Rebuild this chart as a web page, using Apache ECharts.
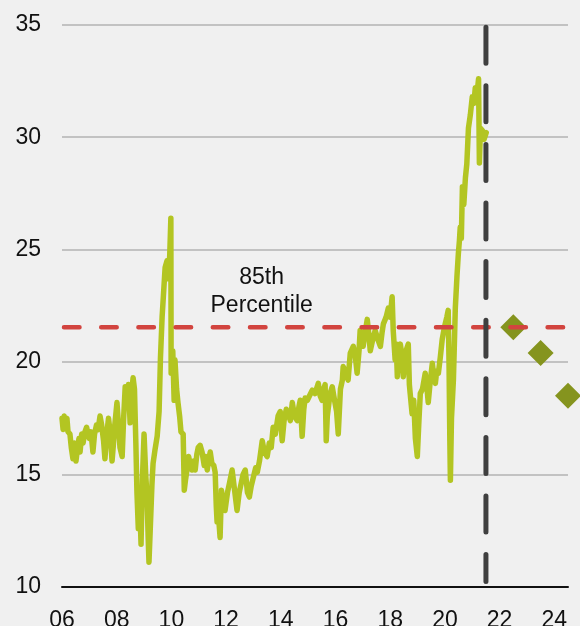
<!DOCTYPE html>
<html>
<head>
<meta charset="utf-8">
<script src="https://cdn.jsdelivr.net/npm/echarts@6/dist/echarts.min.js"></script>
<style>
  html, body { margin: 0; padding: 0; background: #f0f0f0; }
  #chart { width: 580px; height: 626px; }
</style>
</head>
<body>
<div id="chart"></div>
<script>
// Historical series: time in decimal years, value per point
const histYears = [
  2006.00, 2006.04, 2006.08, 2006.13, 2006.18, 2006.22, 2006.29, 2006.34, 2006.40, 2006.45,
  2006.51, 2006.56, 2006.62, 2006.66, 2006.72, 2006.77, 2006.84, 2006.90, 2006.95, 2007.00,
  2007.06, 2007.13, 2007.19, 2007.26, 2007.32, 2007.39, 2007.45, 2007.52, 2007.57, 2007.62,
  2007.70, 2007.76, 2007.83, 2007.87, 2007.93, 2008.01, 2008.06, 2008.12, 2008.20, 2008.25,
  2008.31, 2008.36, 2008.43, 2008.49, 2008.54, 2008.60, 2008.65, 2008.70, 2008.74, 2008.79,
  2008.84, 2008.89, 2008.94, 2009.00, 2009.06, 2009.11, 2009.15, 2009.18, 2009.24, 2009.29,
  2009.33, 2009.40, 2009.48, 2009.55, 2009.60, 2009.66, 2009.72, 2009.77, 2009.84, 2009.90,
  2009.94, 2009.98, 2009.99, 2010.05, 2010.10, 2010.13, 2010.19, 2010.24, 2010.30, 2010.35,
  2010.43, 2010.47, 2010.52, 2010.58, 2010.63, 2010.68, 2010.75, 2010.82, 2010.87, 2010.93,
  2010.98, 2011.05, 2011.12, 2011.20, 2011.25, 2011.31, 2011.37, 2011.42, 2011.48, 2011.55,
  2011.60, 2011.64, 2011.67, 2011.72, 2011.78, 2011.83, 2011.88, 2011.96, 2012.05, 2012.12,
  2012.22, 2012.30, 2012.40, 2012.48, 2012.55, 2012.62, 2012.70, 2012.78, 2012.85, 2012.92,
  2013.00, 2013.08, 2013.14, 2013.22, 2013.32, 2013.40, 2013.50, 2013.58, 2013.65, 2013.72,
  2013.80, 2013.90, 2013.98, 2014.05, 2014.12, 2014.20, 2014.27, 2014.35, 2014.42, 2014.50,
  2014.60, 2014.66, 2014.71, 2014.78, 2014.84, 2014.89, 2014.97, 2015.05, 2015.15, 2015.25,
  2015.37, 2015.44, 2015.51, 2015.57, 2015.62, 2015.66, 2015.70, 2015.80, 2015.88, 2015.95,
  2016.04, 2016.10, 2016.18, 2016.25, 2016.28, 2016.36, 2016.46, 2016.54, 2016.65, 2016.72,
  2016.79, 2016.86, 2016.90, 2016.96, 2017.01, 2017.08, 2017.16, 2017.22, 2017.27, 2017.36,
  2017.45, 2017.55, 2017.64, 2017.70, 2017.75, 2017.85, 2017.93, 2018.00, 2018.07, 2018.11,
  2018.18, 2018.22, 2018.26, 2018.32, 2018.37, 2018.44, 2018.48, 2018.55, 2018.66, 2018.70,
  2018.73, 2018.80, 2018.86, 2018.92, 2018.99, 2019.05, 2019.10, 2019.18, 2019.28, 2019.34,
  2019.39, 2019.46, 2019.54, 2019.60, 2019.65, 2019.70, 2019.76, 2019.83, 2019.90, 2019.96,
  2020.01, 2020.07, 2020.12, 2020.15, 2020.18, 2020.20, 2020.24, 2020.31, 2020.35, 2020.38,
  2020.44, 2020.49, 2020.53, 2020.56, 2020.60, 2020.64, 2020.69, 2020.75, 2020.80, 2020.86,
  2020.93, 2021.00, 2021.06, 2021.11, 2021.18, 2021.23, 2021.26, 2021.30, 2021.37, 2021.43,
  2021.51
];
const histValues = [
  17.5, 17.0, 17.6, 17.3, 17.5, 16.9, 16.8, 16.2, 15.7, 16.4,
  15.6, 16.1, 16.6, 16.0, 16.8, 16.4, 16.9, 17.1, 16.8, 16.6,
  16.9, 16.0, 16.8, 17.2, 17.0, 17.6, 17.2, 16.5, 15.7, 16.6,
  17.5, 16.9, 15.6, 16.2, 17.2, 18.2, 17.3, 16.2, 15.8, 17.4,
  18.9, 18.3, 19.0, 17.3, 18.6, 19.3, 18.8, 16.4, 14.2, 12.6,
  13.8, 11.9, 14.8, 16.8, 15.0, 14.0, 12.2, 11.1, 13.0, 14.6,
  15.5, 16.1, 16.7, 17.8, 20.2, 22.0, 23.2, 24.2, 24.5, 23.7,
  24.8, 26.4, 19.5, 20.5, 18.3, 20.1, 18.8, 18.2, 17.6, 16.9,
  16.8, 14.3, 14.8, 15.3, 15.8, 15.5, 15.2, 15.6, 15.2, 15.9,
  16.2, 16.3, 16.0, 15.4, 15.8, 15.2, 15.7, 16.0, 15.5, 15.4,
  15.1, 13.6, 12.9, 13.2, 12.2, 14.3, 13.8, 13.4, 14.2, 14.6,
  15.2, 14.4, 13.4, 14.2, 14.6, 15.0, 15.2, 14.2, 14.0, 14.5,
  14.9, 15.3, 15.1, 15.6, 16.5, 16.0, 15.8, 16.4, 16.2, 17.1,
  16.8, 17.6, 17.8, 16.5, 17.4, 17.9, 17.7, 17.4, 18.2, 17.6,
  17.4, 18.0, 18.3, 16.7, 17.9, 18.4, 18.3, 18.5, 18.75, 18.6,
  19.05, 18.5, 18.3, 18.8, 19.0, 16.5, 17.6, 18.6, 18.9, 18.4,
  17.8, 16.8, 18.8, 19.2, 19.8, 19.6, 19.2, 20.4, 20.7, 20.3,
  19.5, 20.5, 21.4, 21.0, 20.7, 21.3, 21.9, 21.2, 20.5, 21.0,
  21.4, 21.0, 20.7, 21.3, 21.7, 22.0, 22.4, 22.0, 22.9, 21.4,
  20.1, 20.8, 19.35, 20.5, 20.8, 20.2, 19.35, 20.4, 20.8, 19.0,
  18.6, 17.7, 18.3, 16.6, 15.8, 17.4, 18.6, 18.8, 19.5, 18.9,
  18.2, 19.1, 19.95, 19.3, 19.05, 19.6, 19.5, 20.2, 21.0, 21.4,
  21.7, 22.0, 22.3, 20.0, 16.5, 14.75, 17.5, 19.2, 21.0, 22.4,
  23.8, 24.8, 25.4, 26.0, 25.5, 27.8, 27.0, 28.2, 28.8, 30.4,
  31.0, 31.8, 31.5, 32.2, 32.0, 32.6, 28.85, 30.4, 30.3, 29.9,
  30.2
];

// Projections shown as diamonds
const forecastYears = [2022.5, 2023.5, 2024.5];
const forecastValues = [21.55, 20.4, 18.5];

// Reference levels
const percentile85 = 21.55;
const percentileLabel = ['85th', 'Percentile'];
const cutoffYear = 2021.5;

// Axis ranges
const xRange = [2006, 2024.5];
const yRange = [10, 35];
const xStep = 2;
const yStep = 5;

const FONT = "'Liberation Sans', Arial, sans-serif";
const chart = echarts.init(document.getElementById('chart'), null, { renderer: 'canvas' });

const histData = histYears.map((y, i) => [y, histValues[i]]);
const forecastData = forecastYears.map((y, i) => [y, forecastValues[i]]);

chart.setOption({
  backgroundColor: '#f0f0f0',
  animation: false,
  grid: {
    left: 62, right: 12, top: 24.7, bottom: 39,
    containLabel: false,
    outerBoundsMode: 'none'
  },
  xAxis: {
    type: 'value',
    min: xRange[0],
    max: xRange[1],
    interval: xStep,
    axisLine: { show: true, lineStyle: { color: '#111111', width: 2 } },
    axisTick: { show: false },
    splitLine: { show: false },
    axisLabel: {
      margin: 22,
      color: '#111111',
      fontFamily: FONT,
      fontSize: 23,
      showMaxLabel: false,
      formatter: v => (Number.isInteger(v) && v % 2 === 0) ? String(v).slice(2) : ''
    }
  },
  yAxis: {
    type: 'value',
    min: yRange[0],
    max: yRange[1],
    interval: yStep,
    axisLine: { show: false },
    axisTick: { show: false },
    splitLine: { show: true, lineStyle: { color: '#c2c2c2', width: 2 } },
    axisLabel: { margin: 21, color: '#111111', fontFamily: FONT, fontSize: 23 }
  },
  series: [
    {
      type: 'line',
      data: histData,
      showSymbol: false,
      z: 2,
      lineStyle: { color: '#b3c522', width: 5.5, cap: 'round', join: 'round' }
    },
    {
      type: 'scatter',
      data: forecastData,
      symbol: 'diamond',
      symbolSize: 26,
      clip: false,
      z: 3,
      itemStyle: { color: '#85941e', opacity: 1 }
    },
    {
      type: 'line',
      data: [[xRange[0], percentile85], [xRange[1], percentile85]],
      showSymbol: false,
      z: 4,
      lineStyle: { color: '#d2443f', width: 4.5, type: [15.5, 21.7], dashOffset: -2, cap: 'round' }
    },
    {
      type: 'line',
      data: [[cutoffYear, yRange[1]], [cutoffYear, 10.25]],
      showSymbol: false,
      z: 5,
      lineStyle: { color: '#3f3f3f', width: 5, type: [36, 22.6], dashOffset: -2.5, cap: 'round' }
    }
  ]
});

// Percentile caption sits above the dashed line, centred near 2013.3
const anchor = chart.convertToPixel({ gridIndex: 0 }, [2013.3, percentile85]);
chart.setOption({
  graphic: [{
    type: 'text',
    x: anchor[0],
    y: anchor[1] - 64,
    style: {
      text: percentileLabel.join('\n'),
      fill: '#111111',
      font: '23px ' + FONT,
      lineHeight: 28,
      align: 'center',
      verticalAlign: 'top'
    }
  }]
});
</script>
</body>
</html>
